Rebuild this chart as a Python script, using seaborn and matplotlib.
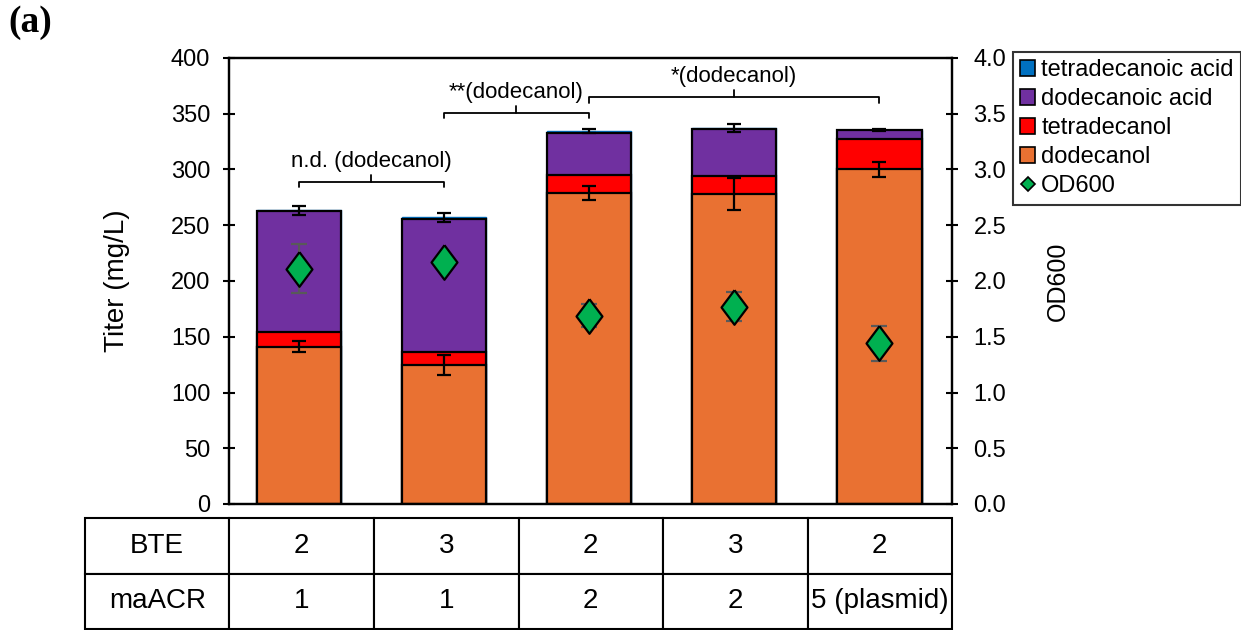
import matplotlib
matplotlib.use('Agg')
import matplotlib.pyplot as plt
from matplotlib.patches import Patch
from matplotlib.lines import Line2D
import numpy as np
import seaborn as sns

# strains (columns of the table under the chart)
strains = ["1", "2", "3", "4", "5"]
bte_copies = ["2", "3", "2", "3", "2"]
maacr_copies = ["1", "1", "2", "2", "5 (plasmid)"]

# titers in mg/L
dodecanol = [141, 125, 279, 278, 300]
tetradecanol = [13, 11, 16, 16, 27]
dodecanoic_acid = [109, 120, 38, 42, 8]
tetradecanoic_acid = [0.5, 1.0, 1.5, 1.2, 0.4]
dodecanol_err = [5, 9, 6, 14, 7]
total_err = [4, 4, 2, 4, 1]

# OD600
od600 = [2.11, 2.17, 1.69, 1.77, 1.44]
od600_err = [0.22, 0.03, 0.10, 0.13, 0.16]

# significance brackets: (first bar, last bar, height, label)
brackets = [(0, 1, 289, "n.d. (dodecanol)"),
            (1, 2, 351, "**(dodecanol)"),
            (2, 4, 365, "*(dodecanol)")]

sns.set_theme(style="ticks")
plt.rcParams['font.family'] = ['Liberation Sans', 'DejaVu Sans']
plt.rcParams['font.size'] = 16
plt.rcParams['text.color'] = 'black'
plt.rcParams['axes.labelcolor'] = 'black'
plt.rcParams['xtick.color'] = 'black'
plt.rcParams['ytick.color'] = 'black'

c_orange = "#E97132"
c_red = "#FF0000"
c_purple = "#7030A0"
c_blue = "#0070C0"
c_green = "#00B050"

fig = plt.figure(figsize=(12.41, 6.30), dpi=100)
ax = fig.add_axes([229/1241, 126/630, 723/1241, 446/630])

layer1 = np.array(dodecanol, dtype=float)
layer2 = layer1 + np.array(tetradecanol)
layer3 = layer2 + np.array(dodecanoic_acid)
layer4 = layer3 + np.array(tetradecanoic_acid)

sns.barplot(x=strains, y=layer4, color=c_blue, saturation=1, width=0.58,
            edgecolor=c_blue, linewidth=1, errorbar=None, ax=ax)
for vals, col in [(layer3, c_purple), (layer2, c_red), (layer1, c_orange)]:
    sns.barplot(x=strains, y=vals, color=col, saturation=1, width=0.58,
                edgecolor="black", linewidth=1.6, errorbar=None, ax=ax)

xpos = np.arange(len(strains))
ax.errorbar(xpos, layer1, yerr=dodecanol_err, fmt='none', ecolor='black',
            elinewidth=1.6, capsize=5, capthick=1.6, zorder=5)
ax.errorbar(xpos, layer4, yerr=total_err, fmt='none', ecolor='black',
            elinewidth=1.6, capsize=5, capthick=1.6, zorder=5)

ax.set_xlim(-0.48, 4.5)
ax.set_ylim(0, 400)
ax.set_yticks(np.arange(0, 401, 50))
ax.set_xticks([])
ax.set_xlabel("")
ax.set_ylabel("Titer (mg/L)", fontsize=20)
ax.yaxis.set_label_coords(-0.137, 0.5)
ax.tick_params(axis='y', direction='inout', length=9, width=1.5, labelsize=17,
               colors='black', pad=9)

# brackets
for a, b, h, lab in brackets:
    mid = (a + b) / 2
    ax.plot([a, a, b, b], [h - 5, h, h, h - 5], color='black', lw=1.3, zorder=6)
    ax.plot([mid, mid], [h, h + 6], color='black', lw=1.3, zorder=6)
    ax.text(mid, h + 9, lab, ha='center', va='bottom', fontsize=16)

ax2 = ax.twinx()
ax2.errorbar(xpos, od600, yerr=od600_err, fmt='none', ecolor='#595959',
             elinewidth=1.6, capsize=6, capthick=1.6, zorder=3)
diamond = [(0, 1), (0.75, 0), (0, -1), (-0.75, 0), (0, 1)]
sns.scatterplot(x=xpos, y=od600, marker=diamond, s=620, color=c_green,
                edgecolor='black', linewidth=1.6, zorder=4, ax=ax2, legend=False)
ax2.set_ylim(0, 4)
ax2.set_yticks(np.arange(0, 4.01, 0.5))
ax2.set_yticklabels([f"{v:.1f}" for v in np.arange(0, 4.01, 0.5)])
ax2.set_ylabel("OD600", fontsize=18)
ax2.yaxis.set_label_coords(1.13, 0.5)
ax2.tick_params(axis='y', direction='inout', length=9, width=1.5, labelsize=17,
                colors='black', pad=11)
ax2.set_xlim(-0.48, 4.5)

for a_ in (ax, ax2):
    for s in a_.spines.values():
        s.set_visible(True)
        s.set_color('black')
        s.set_linewidth(1.6)

# legend
handles = [Patch(facecolor=c_blue, edgecolor='black', lw=1.2, label="tetradecanoic acid"),
           Patch(facecolor=c_purple, edgecolor='black', lw=1.2, label="dodecanoic acid"),
           Patch(facecolor=c_red, edgecolor='black', lw=1.2, label="tetradecanol"),
           Patch(facecolor=c_orange, edgecolor='black', lw=1.2, label="dodecanol"),
           Line2D([], [], marker='D', ls='none', markersize=7, markerfacecolor=c_green,
                  markeredgecolor='black', markeredgewidth=1.2, label="OD600")]
leg = fig.legend(handles=handles, loc='upper left', bbox_to_anchor=(1013/1241, 1 - 52/630),
                 frameon=True, fancybox=False, fontsize=17, handlelength=0.65,
                 handleheight=0.65, handletextpad=0.25, labelspacing=0.3,
                 borderpad=0.3, borderaxespad=0)
leg.get_frame().set_edgecolor('black')
leg.get_frame().set_linewidth(1.5)

# table under the chart
tab = ax.table(cellText=[["BTE"] + bte_copies, ["maACR"] + maacr_copies],
               cellLoc='center', bbox=[-144/723, -125/446, 867/723, 111/446])
tab.auto_set_font_size(False)
tab.set_fontsize(20)
for cell in tab.get_celld().values():
    cell.set_linewidth(1.5)
    cell.set_edgecolor('black')

fig.text(8/1241, 1 - 23/630, "(a)", fontsize=27, fontweight='bold',
         family='Liberation Serif', va='center', ha='left')

fig.savefig("out.png", dpi=100)
